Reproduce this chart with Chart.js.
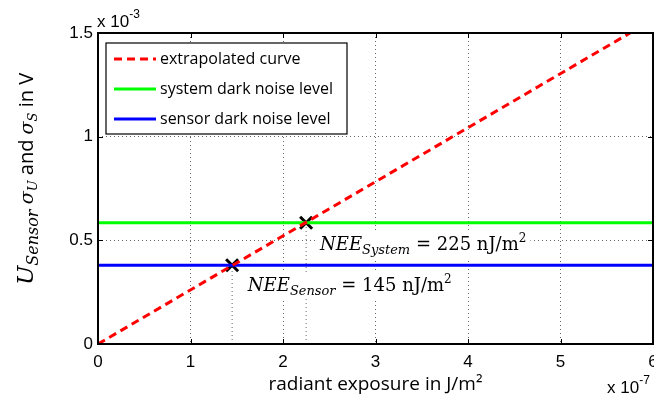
<!DOCTYPE html>
<html>
<head>
<meta charset="utf-8">
<script src="https://cdn.jsdelivr.net/npm/chart.js@4.4.0/dist/chart.umd.min.js"></script>
<style>
	html, body { margin: 0; padding: 0; background: #fff; }
	#wrap { width: 654px; height: 399px; }
</style>
</head>
<body>
<div id="wrap"><canvas id="chart" width="654" height="399"></canvas></div>
<script>
// values (x in 1e-7 J/m^2, y in 1e-3 V)
const xTicks = [0, 1, 2, 3, 4, 5, 6];
const yTicks = [0, 0.5, 1, 1.5];
const curveX = [0, 6];
const curveY = [0, 1.565];
const levelX = [0, 6];
const systemLevel = [0.585, 0.585];
const sensorLevel = [0.38, 0.38];
const neeX = [1.45, 2.25];
const neeY = [0.38, 0.585];
const seriesLabels = ['extrapolated curve', 'system dark noise level', 'sensor dark noise level'];
const neeTexts = [
	{ sub: 'Sensor', value: '145' },
	{ sub: 'System', value: '225' }
];

const sans = '"Open Sans"';
const serif = '"DejaVu Serif"';
const tickFont = { family: '"Liberation Sans"', size: 17 };

function pts(xs, ys) {
	return xs.map((x, i) => ({ x: x, y: ys[i] }));
}

function drawRich(ctx, parts, x, y) {
	let cx = x;
	parts.forEach(p => {
		ctx.font = p.font;
		ctx.fillText(p.text, cx, y + (p.dy || 0));
		cx += ctx.measureText(p.text).width;
	});
	return cx - x;
}

function richWidth(ctx, parts) {
	let w = 0;
	parts.forEach(p => {
		ctx.font = p.font;
		w += ctx.measureText(p.text).width;
	});
	return w;
}

function neeParts(t) {
	return [
		{ text: 'NEE', font: `italic 18px ${serif}` },
		{ text: t.sub, font: `italic 13px ${serif}`, dy: 4 },
		{ text: ' = ' + t.value + ' nJ/m', font: `18px ${serif}` },
		{ text: '2', font: `12px ${serif}`, dy: -8 }
	];
}

const decor = {
	id: 'decor',
	afterLayout(chart) {
		// matlab lets the last x label hang off the figure, so the plot box runs to the edge
		const xs = chart.scales.x, a = chart.chartArea;
		a.right = chart.width - 1;
		a.width = a.right - a.left;
		xs.right = a.right;
		xs.width = xs.right - xs.left;
		xs.configure();
	},
	afterDatasetsDraw(chart) {
		const ctx = chart.ctx;
		const xs = chart.scales.x, ys = chart.scales.y;
		// NEE labels (anchored in data units, white background like matlab text)
		const anchors = [{ x: 1.62, y: 0.256 }, { x: 2.4, y: 0.453 }];
		ctx.save();
		ctx.textBaseline = 'alphabetic';
		ctx.textAlign = 'left';
		neeTexts.forEach((t, i) => {
			const px = xs.getPixelForValue(anchors[i].x);
			const py = ys.getPixelForValue(anchors[i].y);
			const parts = neeParts(t);
			const w = richWidth(ctx, parts);
			ctx.fillStyle = '#fff';
			ctx.fillRect(px - 4, py - 19, w + 8, 27);
			ctx.fillStyle = '#000';
			drawRich(ctx, parts, px, py);
		});
		ctx.restore();
	},
	afterDraw(chart) {
		const ctx = chart.ctx;
		const a = chart.chartArea;
		const xs = chart.scales.x, ys = chart.scales.y;
		ctx.save();

		// axes box + inward ticks
		ctx.strokeStyle = '#000';
		ctx.lineWidth = 2;
		ctx.strokeRect(a.left, a.top, a.right - a.left, a.bottom - a.top);
		ctx.lineWidth = 1;
		ctx.beginPath();
		xTicks.forEach(v => {
			const p = Math.round(xs.getPixelForValue(v)) + 0.5;
			ctx.moveTo(p, a.bottom); ctx.lineTo(p, a.bottom - 5);
			ctx.moveTo(p, a.top); ctx.lineTo(p, a.top + 5);
		});
		yTicks.forEach(v => {
			const p = Math.round(ys.getPixelForValue(v)) + 0.5;
			ctx.moveTo(a.left, p); ctx.lineTo(a.left + 5, p);
			ctx.moveTo(a.right, p); ctx.lineTo(a.right - 5, p);
		});
		ctx.stroke();

		// legend
		const lx = 106, ly = 43, lw = 241, lh = 91;
		ctx.fillStyle = '#fff';
		ctx.fillRect(lx, ly, lw, lh);
		ctx.strokeStyle = '#000';
		ctx.lineWidth = 1.2;
		ctx.strokeRect(lx, ly, lw, lh);
		chart.data.datasets.slice(0, 3).forEach((ds, i) => {
			const y = 59 + i * 30;
			ctx.strokeStyle = ds.borderColor;
			ctx.lineWidth = 3;
			ctx.setLineDash(ds.borderDash || []);
			ctx.beginPath();
			ctx.moveTo(114, y); ctx.lineTo(156, y);
			ctx.stroke();
			ctx.setLineDash([]);
			ctx.fillStyle = '#000';
			ctx.font = `16px ${sans}`;
			ctx.textBaseline = 'middle';
			ctx.fillText(seriesLabels[i], 160, y);
		});

		// exponent labels
		ctx.textBaseline = 'alphabetic';
		ctx.fillStyle = '#000';
		drawRich(ctx, [
			{ text: 'x 10', font: `17px "Liberation Sans"` },
			{ text: '-3', font: `12px "Liberation Sans"`, dy: -9 }
		], 97, 27);
		drawRich(ctx, [
			{ text: 'x 10', font: `17px "Liberation Sans"` },
			{ text: '-7', font: `12px "Liberation Sans"`, dy: -9 }
		], 607, 393);

		// y axis title
		const parts = [
			{ text: 'U', font: `italic 23px ${serif}` },
			{ text: 'Sensor', font: `italic 16px ${serif}`, dy: 5 },
			{ text: ' ', font: `20px ${sans}` },
			{ text: 'σ', font: `italic 19px ${serif}` },
			{ text: 'U', font: `italic 13px ${serif}`, dy: 4 },
			{ text: ' and ', font: `20px ${sans}` },
			{ text: 'σ', font: `italic 19px ${serif}` },
			{ text: 'S', font: `italic 13px ${serif}`, dy: 4 },
			{ text: ' in V', font: `20px ${sans}` }
		];
		ctx.translate(33, 179);
		ctx.rotate(-Math.PI / 2);
		drawRich(ctx, parts, -richWidth(ctx, parts) / 2, 0);
		ctx.restore();
	}
};

const gridOpts = {
	color: 'rgba(0,0,0,0.6)',
	lineWidth: 1,
	drawTicks: false
};

new Chart(document.getElementById('chart'), {
	type: 'scatter',
	data: {
		datasets: [
			{
				label: seriesLabels[0],
				data: pts(curveX, curveY),
				showLine: true,
				borderColor: '#ff0000',
				borderWidth: 3,
				borderDash: [8, 5],
				pointRadius: 0
			},
			{
				label: seriesLabels[1],
				data: pts(levelX, systemLevel),
				showLine: true,
				borderColor: '#00ff00',
				borderWidth: 3,
				pointRadius: 0
			},
			{
				label: seriesLabels[2],
				data: pts(levelX, sensorLevel),
				showLine: true,
				borderColor: '#0000ff',
				borderWidth: 3,
				pointRadius: 0
			},
			{
				// dotted drop lines from the NEE points to the x axis
				data: [{ x: neeX[0], y: 0 }, { x: neeX[0], y: neeY[0] }],
				showLine: true,
				borderColor: 'rgba(0,0,0,0.6)',
				borderWidth: 1,
				borderDash: [1, 3],
				pointRadius: 0
			},
			{
				data: [{ x: neeX[1], y: 0 }, { x: neeX[1], y: neeY[1] }],
				showLine: true,
				borderColor: 'rgba(0,0,0,0.6)',
				borderWidth: 1,
				borderDash: [1, 3],
				pointRadius: 0
			},
			{
				data: pts(neeX, neeY),
				showLine: false,
				pointStyle: 'crossRot',
				pointRadius: 8.5,
				borderColor: '#000',
				borderWidth: 3
			}
		]
	},
	options: {
		responsive: false,
		animation: false,
		layout: { padding: { top: 33, right: 1, left: 0, bottom: 0 } },
		plugins: {
			legend: { display: false },
			tooltip: { enabled: false }
		},
		scales: {
			x: {
				type: 'linear',
				min: 0,
				max: 6,
				afterBuildTicks: s => { s.ticks = xTicks.map(v => ({ value: v })); },
				afterFit: s => { s.height = 55; s.paddingLeft = 0; s.paddingRight = 0; },
				grid: gridOpts,
				border: { display: false, dash: [1, 3] },
				ticks: { color: '#000', font: tickFont, padding: 8, maxRotation: 0 },
				title: {
					display: true,
					text: 'radiant exposure in J/m²',
					color: '#000',
					font: { family: '"Open Sans"', size: 19 },
					padding: { top: 0, bottom: 3 }
				}
			},
			y: {
				type: 'linear',
				min: 0,
				max: 1.5,
				afterBuildTicks: s => { s.ticks = yTicks.map(v => ({ value: v })); },
				afterFit: s => { s.width = 98; s.paddingTop = 0; s.paddingBottom = 0; },
				grid: gridOpts,
				border: { display: false, dash: [1, 3] },
				ticks: { color: '#000', font: tickFont, padding: 5, callback: v => String(v) }
			}
		}
	},
	plugins: [decor]
});
</script>
</body>
</html>
